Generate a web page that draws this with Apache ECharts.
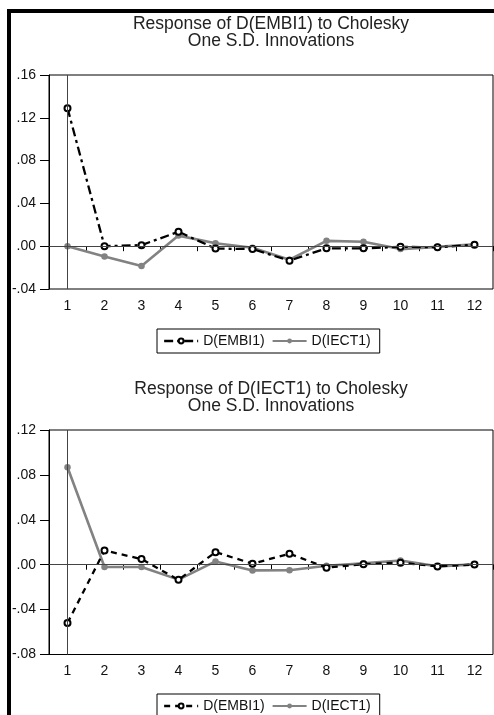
<!DOCTYPE html>
<html>
<head>
<meta charset="utf-8">
<script src="https://cdn.jsdelivr.net/npm/echarts@6/dist/echarts.min.js"></script>
<style>
html,body{margin:0;padding:0;background:#fff;}
#chart{width:494px;height:715px;}
</style>
</head>
<body>
<div id="chart"></div>
<script>
// ---- data ----
const periods = ['1','2','3','4','5','6','7','8','9','10','11','12'];
const title1 = 'Response of D(EMBI1) to Cholesky\nOne S.D. Innovations';
const title2 = 'Response of D(IECT1) to Cholesky\nOne S.D. Innovations';
const seriesNames = ['D(EMBI1)', 'D(IECT1)'];
// Panel 1: response of D(EMBI1)
const p1_embi = [0.129, 0.000, 0.001, 0.0135, -0.0022, -0.0027, -0.0135, -0.002, -0.002, -0.0006, -0.001, 0.0014];
const p1_iect = [0.000, -0.0096, -0.0186, 0.0099, 0.0027, -0.0015, -0.0126, 0.005, 0.0041, -0.0027, -0.0006, 0.0018];
// Panel 2: response of D(IECT1)
const p2_embi = [-0.0519, 0.0127, 0.005, -0.0135, 0.0112, 0.0009, 0.0098, -0.0027, 0.0005, 0.0018, -0.0015, 0.0002];
const p2_iect = [0.0868, -0.0021, -0.002, -0.0133, 0.0029, -0.0051, -0.005, -0.001, 0.0012, 0.0038, -0.0015, 0.0003];
// axis ranges
const y1Range = {min: -0.04, max: 0.16, interval: 0.04};
const y2Range = {min: -0.08, max: 0.12, interval: 0.04};

// ---- styling ----
const FONT = 'Liberation Sans, Arial, sans-serif';
const GREY = '#828282';
const DASH1 = [9, 4, 3, 4];
const DASH2 = [6, 5];
function fmt(v){
  let s = v.toFixed(2);
  if (s === '-0.00') s = '0.00';
  return s.replace(/^(-?)0\./, '$1.');
}
function xAxis(gi){
  return {
    type: 'category', gridIndex: gi, data: periods, boundaryGap: true,
    axisLine: {show: true, lineStyle: {color: '#000', width: 1}},
    axisTick: {show: true, inside: false, length: 5, alignWithLabel: false, lineStyle: {color: '#000'}},
    axisLabel: {margin: 10, fontSize: 14, fontFamily: FONT, color: '#111'},
    splitLine: {show: false}
  };
}
function yAxis(gi, r){
  return {
    type: 'value', gridIndex: gi, min: r.min, max: r.max, interval: r.interval,
    axisLine: {show: true, lineStyle: {color: '#000', width: 1}},
    axisTick: {show: true, inside: false, length: 9, lineStyle: {color: '#000'}},
    axisLabel: {margin: 13, fontSize: 14, fontFamily: FONT, color: '#111', formatter: fmt},
    splitLine: {show: false}
  };
}
const refLines = {
  silent: true, symbol: 'none', label: {show: false},
  lineStyle: {color: '#444', width: 1, type: 'solid'},
  data: [{xAxis: 0}, {yAxis: 0}]
};
function embiSeries(gi, data, dash){
  return {
    name: seriesNames[0], type: 'line', xAxisIndex: gi, yAxisIndex: gi, data: data,
    symbol: 'emptyCircle', symbolSize: 6, showAllSymbol: true,
    lineStyle: {color: '#000', width: 2.3, type: dash},
    itemStyle: {color: '#000', borderWidth: 1.3, borderColor: '#000'},
    z: 4
  };
}
function iectSeries(gi, data){
  return {
    name: seriesNames[1], type: 'line', xAxisIndex: gi, yAxisIndex: gi, data: data,
    symbol: 'circle', symbolSize: 6.5, showAllSymbol: true,
    lineStyle: {color: GREY, width: 2.6, type: 'solid'},
    itemStyle: {color: GREY},
    markLine: refLines,
    z: 3
  };
}
function legend(top, dash){
  return {
    left: 157, top: top, orient: 'horizontal',
    borderColor: '#000', borderWidth: 1, padding: [5, 9, 5, 6],
    itemWidth: 34, itemHeight: 6, itemGap: 7,
    textStyle: {fontSize: 14, fontFamily: FONT, color: '#111'},
    data: [
      {name: seriesNames[0], lineStyle: {type: dash, width: 2.3, color: '#000'}},
      {name: seriesNames[1]}
    ]
  };
}

const chart = echarts.init(document.getElementById('chart'), null, {renderer: 'canvas'});
chart.setOption({
  backgroundColor: '#fff',
  animation: false,
  title: [
    {text: title1, left: 271, top: 16, textAlign: 'center', padding: 0,
     textStyle: {fontSize: 17.5, lineHeight: 17, fontWeight: 'normal', fontFamily: FONT, color: '#222'}},
    {text: title2, left: 271, top: 381, textAlign: 'center', padding: 0,
     textStyle: {fontSize: 17.5, lineHeight: 17, fontWeight: 'normal', fontFamily: FONT, color: '#222'}}
  ],
  grid: [
    {left: 49, top: 75, width: 444, height: 214, show: true, borderColor: '#000', borderWidth: 1, backgroundColor: 'transparent'},
    {left: 49, top: 430, width: 444, height: 224.5, show: true, borderColor: '#000', borderWidth: 1, backgroundColor: 'transparent'}
  ],
  legend: [legend(329, DASH1), legend(694, DASH2)],
  xAxis: [xAxis(0), xAxis(1)],
  yAxis: [yAxis(0, y1Range), yAxis(1, y2Range)],
  series: [
    embiSeries(0, p1_embi, DASH1),
    iectSeries(0, p1_iect),
    embiSeries(1, p2_embi, DASH2),
    iectSeries(1, p2_iect)
  ],
  graphic: [
    {type: 'rect', shape: {x: 7, y: 9, width: 487, height: 4}, style: {fill: '#000'}, silent: true},
    {type: 'rect', shape: {x: 7, y: 9, width: 4, height: 706}, style: {fill: '#000'}, silent: true}
  ]
});
</script>
</body>
</html>
